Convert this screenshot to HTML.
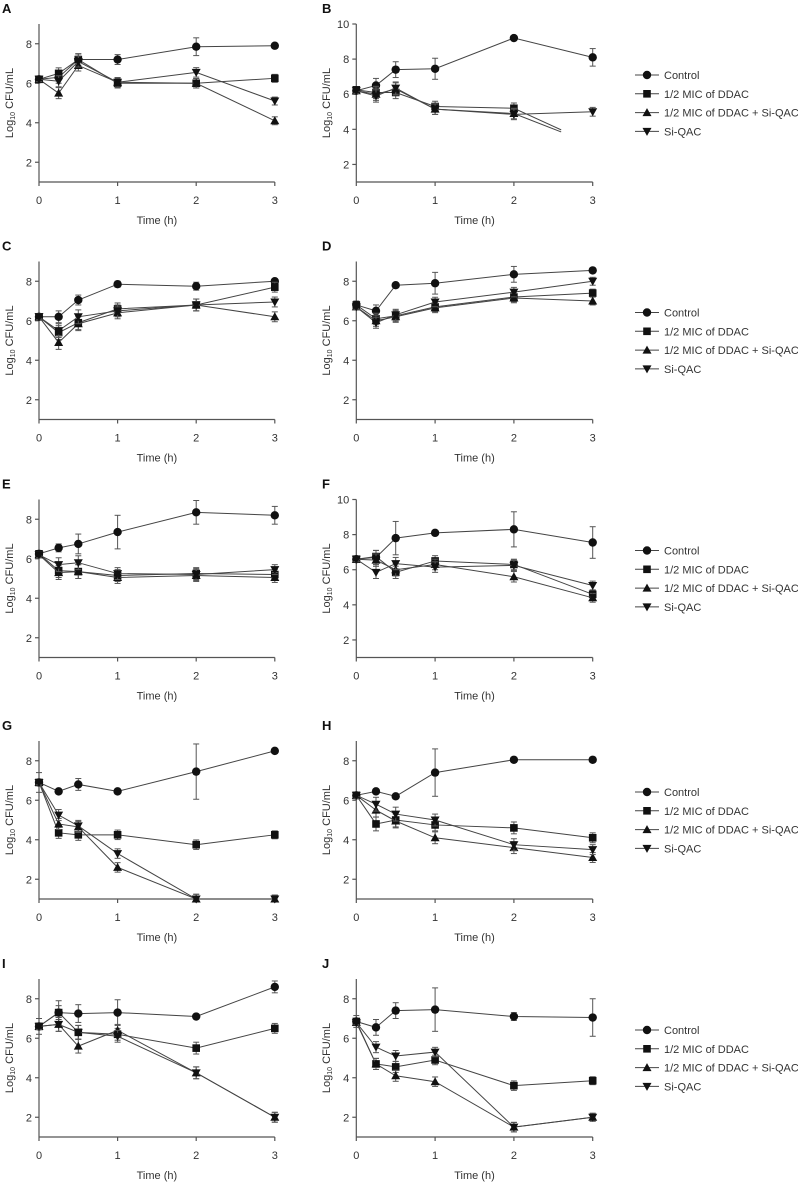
<!DOCTYPE html>
<html><head><meta charset="utf-8"><style>
body{margin:0;background:#fff;}
svg{display:block;font-family:"Liberation Sans",Arial,sans-serif;}
</style></head><body>
<svg id="fig" width="798" height="1185" viewBox="0 0 798 1185" xmlns="http://www.w3.org/2000/svg"></svg>
<script>
const times = [0, 0.25, 0.5, 1, 2, 3];
const seriesNames = ["Control", "1/2 MIC of DDAC", "1/2 MIC of DDAC + Si-QAC", "Si-QAC"];
const panelLabels = ["A","B","C","D","E","F","G","H","I","J"];
const panelYMax = [9,10,9,9,9,10,9,9,9,9];
const yTicksNine = [2,4,6,8];
const yTicksTen = [2,4,6,8,10];
const xTicks = [0,1,2,3];
// values per panel: [control, ddac, ddac+siqac, siqac]
const controlVals = [
 [6.2,6.3,7.2,7.2,7.85,7.9],[6.2,6.5,7.4,7.45,9.2,8.1],[6.2,6.2,7.05,7.85,7.75,8.0],[6.8,6.5,7.8,7.9,8.35,8.55],
 [6.25,6.55,6.75,7.35,8.35,8.2],[6.6,6.7,7.8,8.1,8.3,7.55],[6.9,6.45,6.8,6.45,7.45,8.5],[6.25,6.45,6.2,7.4,8.05,8.05],
 [6.6,7.3,7.25,7.3,7.1,8.6],[6.85,6.55,7.4,7.45,7.1,7.05]];
const ddacVals = [
 [6.2,6.5,7.2,6.0,6.0,6.25],[6.25,6.1,6.1,5.3,5.2,3.15],[6.2,5.4,5.9,6.6,6.8,7.7],[6.8,6.1,6.25,6.7,7.2,7.4],
 [6.25,5.4,5.35,5.15,5.25,5.2],[6.6,6.75,5.85,6.5,6.3,4.6],[6.9,4.35,4.25,4.25,3.75,4.25],[6.25,4.8,5.0,4.75,4.6,4.1],
 [6.6,7.3,6.3,6.2,5.5,6.5],[6.85,4.7,4.55,4.9,3.6,3.85]];
const comboVals = [
 [6.2,5.5,6.9,6.05,6.0,4.1],[6.2,6.0,6.3,5.15,4.9,3.15],[6.2,4.9,5.85,6.4,6.8,6.2],[6.7,6.0,6.2,6.65,7.15,7.0],
 [6.2,5.3,5.35,5.05,5.15,5.05],[6.6,6.55,6.0,6.3,5.6,4.4],[6.9,4.8,4.65,2.6,1.0,1.0],[6.25,5.5,4.95,4.1,3.6,3.1],
 [6.6,6.7,5.6,6.4,4.25,2.0],[6.8,4.7,4.1,3.8,1.5,2.0]];
const siqacVals = [
 [6.2,6.1,7.1,6.05,6.55,5.1],[6.2,5.9,6.35,5.15,4.85,5.0],[6.2,5.5,6.2,6.5,6.8,6.95],[6.7,5.9,6.3,6.95,7.45,8.0],
 [6.2,5.7,5.8,5.25,5.2,5.45],[6.6,5.85,6.35,6.15,6.25,5.1],[6.9,5.25,4.7,3.3,1.0,1.0],[6.25,5.8,5.3,5.0,3.75,3.5],
 [6.6,6.7,6.3,6.1,4.25,2.0],[6.8,5.55,5.1,5.3,1.5,2.0]];
const controlErr = [
 [0.15,0.3,0.3,0.25,0.45,0.1],[0.1,0.4,0.45,0.6,0.05,0.5],[0.1,0.3,0.25,0.15,0.2,0.1],[0.2,0.3,0.1,0.55,0.4,0.1],
 [0.1,0.2,0.5,0.85,0.6,0.45],[0.1,0.4,0.95,0.1,1.0,0.9],[0.5,0.1,0.3,0.1,1.4,0.1],[0.1,0.1,0.1,1.2,0.1,0.1],
 [0.4,0.6,0.45,0.65,0.1,0.3],[0.3,0.4,0.4,1.1,0.2,0.95]];
const otherErr = [0.15,0.35,0.35,0.3,0.3,0.25];
// B: DDAC and combo lines end partway (no marker at 3 h)
const truncT = [null,2.6,null,null,null,null,null,null,null,null];
const rowOffsets = [0,237.5,475.5,717,955];

const svg = document.getElementById('fig');
const NS = 'http://www.w3.org/2000/svg';
function mk(tag, attrs, parent){const e=document.createElementNS(NS,tag);for(const k in attrs)e.setAttribute(k,attrs[k]);(parent||svg).appendChild(e);return e;}

function marker(g, kind, x, y){
  let e;
  if(kind===0){e=mk('circle',{cx:x,cy:y,r:4.2,fill:'#111'},g);}
  else if(kind===1){e=mk('rect',{x:x-3.8,y:y-3.8,width:7.6,height:7.6,fill:'#111'},g);}
  else if(kind===2){e=mk('polygon',{points:`${x},${y-4.5} ${x-4.5},${y+3.5} ${x+4.5},${y+3.5}`,fill:'#111'},g);}
  else {e=mk('polygon',{points:`${x},${y+4.5} ${x-4.5},${y-3.5} ${x+4.5},${y-3.5}`,fill:'#111'},g);}
  return e;
}

for(let p=0;p<10;p++){
  const col=p%2,row=Math.floor(p/2);
  const dy=rowOffsets[row];
  const x0= col===0?39:356.3, pxh= col===0?78.6:78.8;
  const top=24+dy, bot=182+dy, ymax=panelYMax[p];
  const X=t=>x0+t*pxh;
  const Y=v=>bot-(v-1)*(bot-top)/(ymax-1);
  const g=mk('g',{});
  
  
  const lab=mk('text',{x:col===0?2:322,y:13+dy,'font-size':13,'font-weight':'bold',fill:'#111'},g);
  lab.textContent=panelLabels[p];
  
  
  // axes
  const ax=mk('g',{stroke:'#555','stroke-width':1.2},g);
  
  
  mk('line',{x1:x0,y1:top,x2:x0,y2:bot},ax);
  mk('line',{x1:x0,y1:bot,x2:X(3),y2:bot},ax);
  const yt = ymax===10?yTicksTen:yTicksNine;
  yt.forEach(v=>{
    mk('line',{x1:x0-4,y1:Y(v),x2:x0,y2:Y(v)},ax);
    const t=mk('text',{x:x0-7,y:Y(v)+4,'font-size':11,'text-anchor':'end',fill:'#333'},g);
    t.textContent=v;
    
    
  });
  xTicks.forEach(v=>{
    mk('line',{x1:X(v),y1:bot,x2:X(v),y2:bot+4},ax);
    const t=mk('text',{x:X(v),y:bot+22,'font-size':11,'text-anchor':'middle',fill:'#333'},g);
    t.textContent=v;
    
    
  });
  const xt=mk('text',{x:X(1.5),y:bot+42,'font-size':11,'text-anchor':'middle',fill:'#333'},g);
  xt.textContent='Time (h)';
  
  
  const cy=(top+bot)/2, cxT=col===0?13:330;
  const yt2=mk('text',{x:cxT,y:cy,'font-size':11,'text-anchor':'middle',fill:'#333',transform:`rotate(-90 ${cxT} ${cy})`},g);
  
  
  yt2.appendChild(document.createTextNode('Log'));
  const sub=mk('tspan',{'font-size':7,dy:2},yt2); sub.textContent='10';
  const rest=mk('tspan',{dy:-2},yt2); rest.textContent=' CFU/mL';
  // series
  const all=[controlVals[p],ddacVals[p],comboVals[p],siqacVals[p]];
  all.forEach((vals,s)=>{
    const sg=mk('g',{},g);
    
    
    const trunc = (truncT[p]!==null && (s===1||s===2));
    let pts=[];
    times.forEach((t,i)=>{
      if(trunc && t>truncT[p]){
        const t0=times[i-1],v0=vals[i-1];
        const f=(truncT[p]-t0)/(t-t0);
        pts.push([X(truncT[p]),Y(v0+(vals[i]-v0)*f)]);
      } else pts.push([X(t),Y(vals[i])]);
    });
    mk('polyline',{points:pts.map(q=>q.join(',')).join(' '),fill:'none',stroke:'#444','stroke-width':1},sg);
    times.forEach((t,i)=>{
      if(trunc && t>truncT[p]) return;
      const e = s===0?controlErr[p][i]:otherErr[i]*(p%3===0?0.8:1);
      const x=X(t);
      mk('line',{x1:x,y1:Y(vals[i]+e),x2:x,y2:Math.min(bot,Y(vals[i]-e)),stroke:'#555','stroke-width':1},sg);
      mk('line',{x1:x-3,y1:Y(vals[i]+e),x2:x+3,y2:Y(vals[i]+e),stroke:'#555','stroke-width':1},sg);
      if(Y(vals[i]-e)<bot) mk('line',{x1:x-3,y1:Y(vals[i]-e),x2:x+3,y2:Y(vals[i]-e),stroke:'#555','stroke-width':1},sg);
    });
    times.forEach((t,i)=>{
      if(trunc && t>truncT[p]) return;
      const m=marker(sg,s,X(t),Y(vals[i]));
      
      
    });
  });
  // legend on right column
  if(col===1){
    const lg=mk('g',{},g);
    
    
    seriesNames.forEach((n,s)=>{
      const ly=75+dy+s*18.8;
      const eg=mk('g',{},lg);
      
      
      mk('line',{x1:635,y1:ly,x2:659,y2:ly,stroke:'#444','stroke-width':1},eg);
      marker(eg,s,647,ly);
      const t=mk('text',{x:664,y:ly+4,'font-size':11,fill:'#333'},eg);
      t.textContent=n;
    });
  }
}
</script>
</body></html>
